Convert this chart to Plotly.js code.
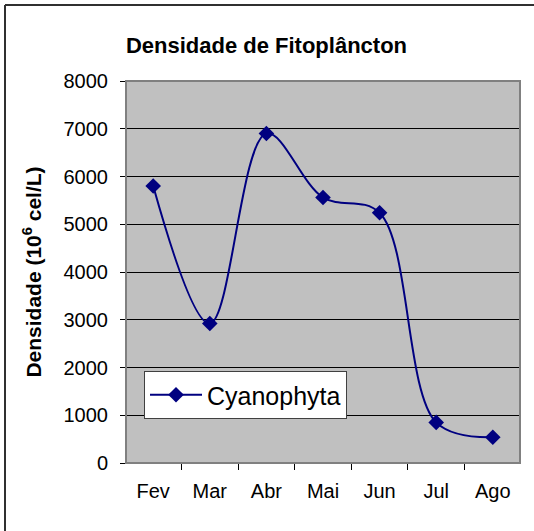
<!DOCTYPE html>
<html>
<head>
<meta charset="utf-8">
<script src="https://cdn.plot.ly/plotly-3.0.1.min.js"></script>
<style>html,body{margin:0;padding:0;background:#fff;}#chart{width:534px;height:531px;}</style>
</head>
<body>
<div id="chart"></div>
<script>
const months = ["Fev", "Mar", "Abr", "Mai", "Jun", "Jul", "Ago"];
const cyanophyta = [5800, 2920, 6900, 5560, 5240, 850, 540];
const yTicks = [0, 1000, 2000, 3000, 4000, 5000, 6000, 7000, 8000];
const seriesName = "Cyanophyta";

const FONT = "Liberation Sans, Arial, sans-serif";

const trace = {
  x: months,
  y: cyanophyta,
  name: seriesName,
  type: "scatter",
  mode: "lines+markers",
  line: {color: "#000080", width: 2, shape: "spline", smoothing: 1},
  marker: {symbol: "diamond", size: 12, color: "#000080"}
};

const layout = {
  width: 534, height: 531,
  margin: {l: 126, r: 14, t: 81, b: 68},
  paper_bgcolor: "#ffffff",
  plot_bgcolor: "#c0c0c0",
  font: {family: FONT, color: "#000", size: 20},
  title: {
    text: "<b>Densidade de Fitoplâncton</b>",
    font: {family: FONT, size: 22, color: "#000"},
    x: 0.499, xref: "container", xanchor: "center",
    y: 0.915, yref: "container", yanchor: "middle"
  },
  showlegend: true,
  legend: {
    x: 0.0457, y: 0.2408, xanchor: "left", yanchor: "top",
    bgcolor: "#ffffff", bordercolor: "#404040", borderwidth: 1,
    itemwidth: 52,
    font: {family: FONT, size: 25, color: "#000"}
  },
  xaxis: {
    type: "category",
    tickson: "boundaries",
    ticks: "outside", ticklen: 6, tickcolor: "#000", tickwidth: 1,
    showline: true, linecolor: "#000", linewidth: 1,
    showgrid: false, zeroline: false,
    ticklabelstandoff: 10,
    tickfont: {family: FONT, size: 20, color: "#000"},
    fixedrange: true
  },
  yaxis: {
    range: [0, 8000],
    tickvals: yTicks,
    ticktext: yTicks.map(String),
    ticks: "outside", ticklen: 5, tickcolor: "#000", tickwidth: 1,
    showline: true, linecolor: "#000", linewidth: 1,
    showgrid: true, gridcolor: "#000", gridwidth: 1,
    zeroline: false,
    ticklabelstandoff: 8,
    tickfont: {family: FONT, size: 20, color: "#000"},
    title: {text: "<b>Densidade (10<sup>6</sup> cel/L)</b>", font: {family: FONT, size: 21, color: "#000"}, standoff: 16},
    fixedrange: true
  },
  shapes: [
    {type: "rect", xref: "paper", yref: "paper", x0: 0, x1: 1, y0: 0, y1: 1,
     line: {color: "#808080", width: 2}, fillcolor: "rgba(0,0,0,0)", layer: "above"},
    {type: "line", xref: "paper", yref: "paper", x0: -0.3071, x1: -0.3071, y0: -0.3, y1: 1.199,
     line: {color: "#303030", width: 2}, layer: "below"},
    {type: "line", xref: "paper", yref: "paper", x0: -0.3071, x1: 1.2, y0: 1.199, y1: 1.199,
     line: {color: "#303030", width: 2}, layer: "below"}
  ]
};

Plotly.newPlot("chart", [trace], layout, {displayModeBar: false, staticPlot: true});
</script>
</body>
</html>
